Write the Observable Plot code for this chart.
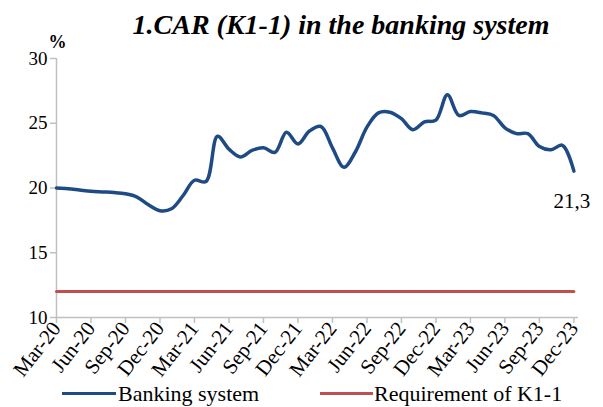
<!DOCTYPE html>
<html><head><meta charset="utf-8">
<script src="https://cdn.jsdelivr.net/npm/d3@7"></script>
<script src="https://cdn.jsdelivr.net/npm/@observablehq/plot@0.6"></script>
<style>
body{margin:0;background:#fff;}
#wrap{width:603px;height:407px;position:relative;overflow:hidden;background:#fff;font-family:"Liberation Serif",serif;}
#title{height:30px;position:relative;}
#title span{position:absolute;left:341px;top:9px;transform:translateX(-50%);font:bold italic 28px "Liberation Serif",serif;white-space:nowrap;color:#000;}
#chart{height:350px;}
#chart svg text{font-family:"Liberation Serif",serif;}
#legend{position:relative;height:27px;}
.sw{position:absolute;height:3px;top:12px;}
.lt{position:absolute;top:0;line-height:27px;font-size:22px;color:#000;white-space:nowrap;font-family:"Liberation Serif",serif;}
</style></head><body><div id="wrap">
<div id="title"><span>1.CAR (K1-1) in the banking system</span></div>
<div id="chart"></div>
<div id="legend">
  <div class="sw" style="left:62px;width:54px;background:#1F4B85"></div>
  <div class="lt" style="left:118px">Banking system</div>
  <div class="sw" style="left:320px;width:53px;background:#C0504D"></div>
  <div class="lt" style="left:374px">Requirement of K1-1</div>
</div>
</div>
<script>
const months = ["Mar-20","Apr-20","May-20","Jun-20","Jul-20","Aug-20","Sep-20","Oct-20","Nov-20","Dec-20",
  "Jan-21","Feb-21","Mar-21","Apr-21","May-21","Jun-21","Jul-21","Aug-21","Sep-21","Oct-21","Nov-21","Dec-21",
  "Jan-22","Feb-22","Mar-22","Apr-22","May-22","Jun-22","Jul-22","Aug-22","Sep-22","Oct-22","Nov-22","Dec-22",
  "Jan-23","Feb-23","Mar-23","Apr-23","May-23","Jun-23","Jul-23","Aug-23","Sep-23","Oct-23","Nov-23","Dec-23"];
const bankingSystem = [20.0,19.95,19.85,19.75,19.7,19.65,19.55,19.3,18.7,18.25,
  18.4,19.4,20.6,20.5,24.0,23.0,22.4,22.9,23.1,22.75,24.3,23.4,
  24.4,24.75,23.1,21.6,22.8,24.7,25.8,25.85,25.35,24.5,25.1,25.25,
  27.2,25.6,25.9,25.8,25.6,24.65,24.2,24.2,23.2,22.95,23.3,21.3];
const requirementK11 = [12,12,12,12,12,12,12,12,12,12,12,12,12,12,12,12,12,12,12,12,12,12,12,
  12,12,12,12,12,12,12,12,12,12,12,12,12,12,12,12,12,12,12,12,12,12,12];
const tickLabels = ["Mar-20","Jun-20","Sep-20","Dec-20","Mar-21","Jun-21","Sep-21","Dec-21",
  "Mar-22","Jun-22","Sep-22","Dec-22","Mar-23","Jun-23","Sep-23","Dec-23"];
const yTicks = [10,15,20,25,30];

const data = months.map((m,i)=>({i, month:m, v:bankingSystem[i], req:requirementK11[i]}));
const tickIdx = tickLabels.map(l=>months.indexOf(l));
const last = data[data.length-1];

const plot = Plot.plot({
  width:603, height:350,
  marginLeft:56, marginRight:25, marginTop:28, marginBottom:63,
  style:{fontFamily:'"Liberation Serif", serif', fontSize:"17px", color:"#000", background:"#fff", overflow:"visible"},
  x:{type:"linear", domain:[0,45.4]},
  y:{domain:[10,30]},
  marks:[
    Plot.axisY({ticks:yTicks, tickSize:6, tickPadding:3, stroke:"#c0c0c0", fill:"#000", strokeWidth:1.5, fontSize:19, label:null}),
    Plot.axisX({ticks:tickIdx, tickFormat:i=>months[i], tickRotate:-52, tickSize:6, tickPadding:1, stroke:"#c0c0c0", fill:"#000", strokeWidth:1.5, fontSize:21, label:null}),
    Plot.ruleX([0], {stroke:"#c0c0c0", strokeWidth:1.5}),
    Plot.ruleY([10], {stroke:"#c0c0c0", strokeWidth:1.5}),
    Plot.line(data, {x:"i", y:"req", stroke:"#C0504D", strokeWidth:3}),
    Plot.line(data, {x:"i", y:"v", stroke:"#1F4B85", strokeWidth:3.5, curve:"catmull-rom"}),
    Plot.text([last], {x:"i", y:"v", text:d=>d.v.toFixed(1).replace(".",","), dy:30, dx:-2, fontSize:21, fill:"#000"}),
    Plot.text(["%"], {frameAnchor:"top-left", text:d=>d, textAnchor:"start", lineAnchor:"middle", dx:-8, dy:-16, fontWeight:"bold", fontSize:18, fill:"#000"})
  ]
});
document.getElementById("chart").appendChild(plot);
</script>
</body></html>
